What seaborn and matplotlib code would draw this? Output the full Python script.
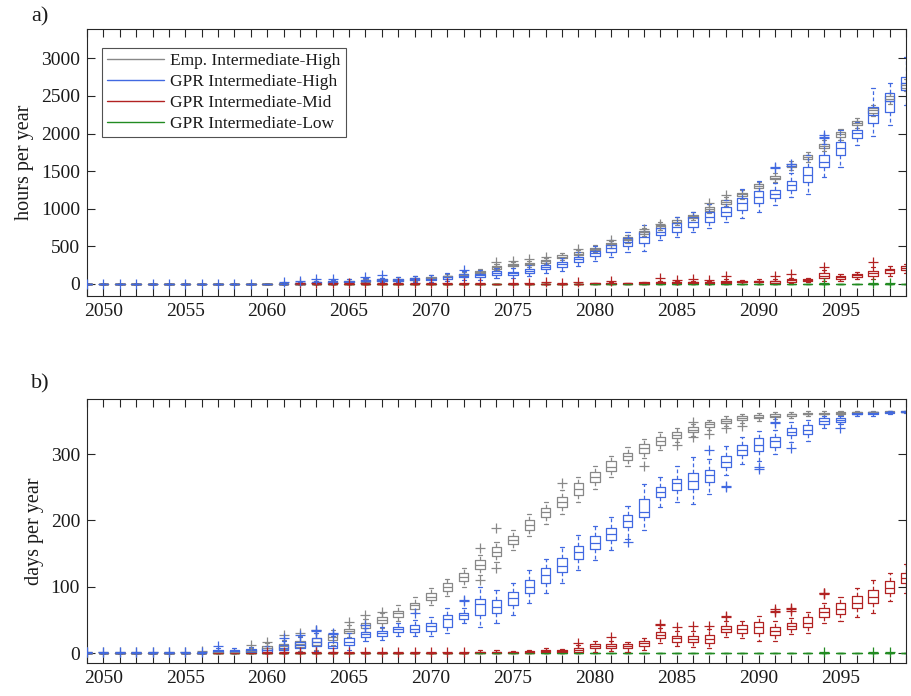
import numpy as np
import pandas as pd
import matplotlib
matplotlib.use("Agg")
import matplotlib.pyplot as plt
from matplotlib.lines import Line2D
import seaborn as sns

YEARS = list(range(2049, 2100))
XTICK_LABELS = [str(y) if y % 5 == 0 else "" for y in YEARS]
SERIES_NAMES = ["Emp. Intermediate-High", "GPR Intermediate-High",
                "GPR Intermediate-Mid", "GPR Intermediate-Low"]
COLORS = ["#888888", "#4169e1", "#b22222", "#228b22"]

# ---------------- panel a: hours per year ----------------
EMP_A_MED = [0]*12 + [5,10,15,20,30,40,50,55,65,85, 100,125,165,220,250,265,300,365,405,470,
                      530,600,690,770,830,900,1000,1095,1190,1300, 1415,1575,1690,1840,1990,2140,2310,2465,2640]
EMP_A_Q1 = [0]*12 + [0,5,8,12,20,30,40,45,55,75, 90,113,150,205,235,250,285,350,390,455,
                     512,582,670,750,810,880,975,1070,1165,1275, 1390,1550,1665,1810,1960,2110,2280,2435,2605]
EMP_A_Q3 = [0]*12 + [10,15,22,28,38,50,60,65,75,95, 110,137,178,235,265,280,315,380,420,485,
                     548,618,710,790,850,920,1020,1115,1210,1325, 1440,1600,1715,1865,2015,2165,2340,2495,2670]
EMP_A_LO = [0]*12 + [0,0,0,0,5,15,25,30,40,55, 70,95,130,180,210,225,260,325,365,425,
                     485,550,640,720,780,850,940,1035,1130,1240, 1350,1510,1620,1770,1920,2070,2240,2390,2560]
EMP_A_HI = [0]*12 + [20,25,35,45,60,70,80,90,100,120, 135,160,200,265,295,310,345,410,450,515,
                     575,650,745,825,885,955,1060,1155,1250,1360, 1480,1640,1760,1910,2060,2210,2380,2540,2720]
EMP_A_OUT_X = [2074, 2075, 2076, 2077, 2079, 2081, 2083, 2084, 2087, 2088]
EMP_A_OUT_Y = [290, 310, 335, 365, 470, 585, 726, 800, 1075, 1183]

HIGH_A_MED = [0]*12 + [3,10,20,25,30,45,50,53,62,71, 89,110,115,150,142,177,230,261,328,408,
                       474,554,620,695,762,828,886,961,1072,1161, 1192,1316,1449,1626,1803,2002,2246,2437,2667]
HIGH_A_Q1 = [0]*12 + [0,5,12,15,20,35,40,42,50,58, 72,90,95,125,120,150,200,230,295,370,
                      430,500,540,651,695,762,830,908,985,1075, 1138,1249,1360,1559,1714,1936,2135,2290,2578]
HIGH_A_Q3 = [0]*12 + [6,15,28,35,40,55,60,65,75,85, 105,128,138,172,165,200,255,290,360,440,
                      518,615,695,740,815,886,961,1028,1140,1236, 1249,1373,1559,1714,1892,2046,2348,2534,2755]
HIGH_A_LO = [0]*12 + [0,0,0,0,5,15,20,20,25,30, 40,55,55,80,75,100,150,175,235,300,
                      360,420,440,590,620,690,740,820,880,960, 1050,1150,1200,1420,1560,1850,1967,2113,2380]
HIGH_A_HI = [0]*12 + [12,25,45,55,60,80,85,90,100,115, 140,170,180,215,210,250,310,345,420,510,
                      580,690,790,800,890,960,1060,1120,1260,1370, 1340,1480,1720,1860,2050,2150,2600,2667,3020]
HIGH_A_OUT_X = [2049, 2050, 2051, 2052, 2053, 2054, 2055, 2056, 2057, 2058, 2059,
                2061, 2062, 2063, 2064, 2066, 2067, 2072, 2091, 2091, 2092, 2092, 2094, 2094, 2094]
HIGH_A_OUT_Y = [5, 5, 5, 5, 5, 5, 5, 5, 5, 5, 5,
                20, 35, 60, 70, 95, 120, 190, 1540, 1560, 1575, 1595, 1945, 1960, 1975]

MID_A_MED = [0]*31 + [8,10,8,15,20,20,20,22,30,30, 35,35,50,55,110,90,118,150,180,210]
MID_A_Q1 = [0]*31 + [3,4,3,5,10,8,8,10,15,20, 20,15,30,45,80,70,95,110,150,185]
MID_A_Q3 = [0]*31 + [12,14,10,22,30,28,30,30,40,40, 45,45,60,65,150,105,135,175,200,235]
MID_A_LO = [0]*31 + [0,0,0,0,0,0,0,0,0,5, 5,0,10,25,40,40,65,60,110,150]
MID_A_HI = [0]*31 + [18,20,15,30,45,40,45,45,60,55, 65,65,85,85,180,130,160,230,240,270]
MID_A_OUT_X = [2062, 2063, 2064, 2065, 2066, 2067, 2068, 2069, 2070, 2071, 2072, 2073,
               2075, 2076, 2077, 2078, 2079, 2081, 2084, 2085, 2086, 2087, 2088, 2091, 2092, 2094, 2097]
MID_A_OUT_Y = [10, 10, 10, 10, 10, 10, 10, 10, 10, 10, 10, 10,
               10, 10, 25, 10, 30, 40, 75, 55, 60, 55, 100, 110, 130, 221, 295]

LOW_A_MED = [0]*51
LOW_A_OUT_X = [2094, 2097, 2098]
LOW_A_OUT_Y = [8, 8, 8]

# ---------------- panel b: days per year ----------------
EMP_B_MED = [0]*8 + [1,2,3,7,10,13,17,24,34,42, 50,60,72,85,99,114,133,152,170,193,
                     212,228,247,266,281,297,309,320,329,337, 345,350,354,356,358,360,361,361,362,363, 364,364,364]
EMP_B_Q1 = [0]*8 + [0,0,1,4,6,9,12,19,30,38, 45,55,67,80,94,109,127,146,164,186,
                    205,220,239,258,274,291,302,314,324,333, 341,347,351,354,356,358,360,360,361,362, 363,363,364]
EMP_B_Q3 = [0]*8 + [2,3,5,10,14,18,22,28,37,46, 54,64,76,91,105,120,140,160,177,200,
                    218,236,256,273,289,302,315,326,334,341, 348,353,357,359,360,361,362,362,363,364, 364,365,365]
EMP_B_LO = [0]*8 + [0,0,0,0,1,3,5,12,24,32, 38,48,60,72,86,100,118,138,155,176,
                    195,210,228,248,265,282,294,306,318,327, 336,343,347,350,353,355,358,358,359,361, 362,362,363]
EMP_B_HI = [0]*8 + [3,5,7,15,20,25,30,35,42,52, 60,72,84,98,112,128,148,168,186,210,
                    228,246,265,282,297,310,322,333,340,346, 352,357,360,362,363,364,365,365,365,365, 365,365,365]
EMP_B_OUT_X = [2049, 2050, 2051, 2052, 2053, 2054, 2055, 2056, 2059, 2060, 2061, 2062, 2063,
               2065, 2066, 2067, 2073, 2073, 2074, 2074, 2078, 2083, 2085, 2086, 2086, 2087, 2088, 2089]
EMP_B_OUT_Y = [1, 1, 1, 1, 1, 1, 1, 3, 12, 17, 27, 30, 35,
               47, 58, 62, 158, 110, 188, 128, 257, 282, 314, 349, 326, 331, 340, 342]

HIGH_B_MED = [0]*8 + [3,3,4,4,8,12,16,11,17,28, 30,36,37,41,52,57,74,70,83,100,
                      117,132,152,166,180,199,213,243,256,260, 268,288,306,314,319,334,337,350,352,361, 362,363,364]
HIGH_B_Q1 = [0]*8 + [1,1,1,1,4,7,11,7,12,24, 26,32,32,34,40,52,57,60,72,90,
                     105,122,142,157,171,190,205,236,246,248, 258,280,298,305,310,328,330,346,349,360, 360,362,363]
HIGH_B_Q3 = [0]*8 + [5,5,6,7,12,17,22,17,22,32, 34,40,42,45,57,61,82,80,92,110,
                     128,143,162,177,189,208,233,250,263,272, 276,297,313,324,325,340,344,354,355,362, 363,364,365]
HIGH_B_LO = [0]*8 + [0,0,0,0,0,1,3,1,4,18, 20,25,26,25,30,45,40,45,58,75,
                     90,105,125,140,155,172,185,220,228,225, 240,268,285,290,300,318,320,340,345,358, 358,361,362]
HIGH_B_HI = [0]*8 + [8,8,9,10,18,24,30,25,30,38, 40,46,50,55,68,68,100,95,105,125,
                     142,160,178,192,205,222,255,265,282,296, 292,312,325,335,336,348,352,358,358,364, 364,365,365]
HIGH_B_OUT_X = [2049, 2050, 2051, 2052, 2053, 2054, 2055, 2056, 2057, 2061, 2062, 2063, 2063,
                2064, 2064, 2066, 2069, 2072, 2072, 2082, 2087, 2088, 2088, 2090, 2090, 2091, 2091, 2092, 2095]
HIGH_B_OUT_Y = [1, 1, 1, 1, 1, 1, 1, 1, 10, 22, 27, 33, 35,
                28, 30, 42, 60, 78, 80, 168, 306, 252, 250, 278, 280, 347, 349, 309, 339]

MID_B_MED = [0]*24 + [1,1,1,2,3,3,5,10,11,10, 15,27,22,21,21,36,36,40,34,41, 46,62,67,76,84,98,113]
MID_B_Q1 = [0]*24 + [0,0,0,0,1,1,2,7,8,7, 11,22,17,16,15,31,30,30,27,36, 40,55,59,68,76,90,105]
MID_B_Q3 = [0]*24 + [2,2,2,3,4,4,8,14,14,13, 18,31,26,26,27,41,42,47,40,46, 55,68,76,86,95,108,120]
MID_B_LO = [0]*24 + [0,0,0,0,0,0,0,2,3,2, 5,15,10,9,7,24,22,18,18,28, 30,45,48,55,60,78,90]
MID_B_HI = [0]*24 + [4,4,3,5,7,6,12,18,18,17, 22,38,33,34,36,48,49,56,48,53, 62,75,85,98,110,120,135]
MID_B_OUT_X = [2060, 2061, 2062, 2063, 2064, 2065, 2066, 2067, 2068, 2069, 2070, 2071, 2072,
               2079, 2081, 2084, 2084, 2085, 2086, 2087, 2088, 2088, 2091, 2091, 2091,
               2092, 2092, 2092, 2094, 2094, 2094]
MID_B_OUT_Y = [2, 2, 2, 2, 2, 2, 2, 2, 2, 2, 2, 2, 2,
               15, 24, 42, 44, 39, 41, 41, 56, 54, 66, 64, 62,
               68, 66, 64, 90, 89, 91]

LOW_B_MED = [0]*51
LOW_B_OUT_X = [2094, 2097, 2098]
LOW_B_OUT_Y = [1, 1, 1]

# ---------------- drawing ----------------
sns.set_style("ticks")
plt.rcParams["font.family"] = ["Liberation Serif", "DejaVu Serif"]
plt.rcParams["axes.edgecolor"] = "#262626"
plt.rcParams["axes.linewidth"] = 0.8

INK = "#262626"


def box_frame(lo, q1, med, q3, hi):
    rows = []
    for yr, a, b, c, d, e in zip(YEARS, lo, q1, med, q3, hi):
        for v in (a, b, c, d, e):
            rows.append((yr, v))
    return pd.DataFrame(rows, columns=["year", "value"])


def draw(ax, stats, color, outx, outy):
    df = box_frame(*stats)
    sns.boxplot(data=df, x="year", y="value", native_scale=True, whis=np.inf,
                width=0.58, fill=False, color=color, linewidth=0.9,
                showfliers=False, whiskerprops=dict(linestyle=(0, (3, 2))),
                capwidths=0.25, ax=ax)
    if outx:
        sns.scatterplot(x=outx, y=outy, marker="+", color=color, s=55,
                        linewidth=0.9, ax=ax, zorder=3, legend=False)


fig = plt.figure(figsize=(9.11, 6.96), dpi=100)
ax_a = fig.add_axes([0.0955, 0.5747, 0.899, 0.3836])
ax_b = fig.add_axes([0.0955, 0.0474, 0.899, 0.3793])

panel_a = [
    ((LOW_A_MED, LOW_A_MED, LOW_A_MED, LOW_A_MED, LOW_A_MED), COLORS[3], LOW_A_OUT_X, LOW_A_OUT_Y),
    ((MID_A_LO, MID_A_Q1, MID_A_MED, MID_A_Q3, MID_A_HI), COLORS[2], MID_A_OUT_X, MID_A_OUT_Y),
    ((EMP_A_LO, EMP_A_Q1, EMP_A_MED, EMP_A_Q3, EMP_A_HI), COLORS[0], EMP_A_OUT_X, EMP_A_OUT_Y),
    ((HIGH_A_LO, HIGH_A_Q1, HIGH_A_MED, HIGH_A_Q3, HIGH_A_HI), COLORS[1], HIGH_A_OUT_X, HIGH_A_OUT_Y),
]
panel_b = [
    ((LOW_B_MED, LOW_B_MED, LOW_B_MED, LOW_B_MED, LOW_B_MED), COLORS[3], LOW_B_OUT_X, LOW_B_OUT_Y),
    ((MID_B_LO, MID_B_Q1, MID_B_MED, MID_B_Q3, MID_B_HI), COLORS[2], MID_B_OUT_X, MID_B_OUT_Y),
    ((EMP_B_LO, EMP_B_Q1, EMP_B_MED, EMP_B_Q3, EMP_B_HI), COLORS[0], EMP_B_OUT_X, EMP_B_OUT_Y),
    ((HIGH_B_LO, HIGH_B_Q1, HIGH_B_MED, HIGH_B_Q3, HIGH_B_HI), COLORS[1], HIGH_B_OUT_X, HIGH_B_OUT_Y),
]

for ax, items in ((ax_a, panel_a), (ax_b, panel_b)):
    for stats, color, ox, oy in items:
        draw(ax, stats, color, ox, oy)

for ax in (ax_a, ax_b):
    ax.set_xlim(2049, 2099)
    ax.set_xticks(YEARS)
    ax.set_xticklabels(XTICK_LABELS)
    ax.set_xlabel("")
    ax.tick_params(direction="in", length=5.5, width=0.8, top=True, right=True,
                   labelsize=14, colors=INK, labelcolor="#1a1a1a", pad=5)
    for sp in ax.spines.values():
        sp.set_visible(True)
        sp.set_color(INK)
        sp.set_linewidth(0.8)

ax_a.set_ylim(-160, 3390)
ax_a.set_yticks([0, 500, 1000, 1500, 2000, 2500, 3000])
ax_a.set_ylabel("hours per year", fontsize=14.5, color="#1a1a1a", labelpad=5)
ax_b.set_ylim(-15, 383)
ax_b.set_yticks([0, 100, 200, 300])
ax_b.set_ylabel("days per year", fontsize=14.5, color="#1a1a1a", labelpad=5)

handles = [Line2D([0], [0], color=c, lw=1.0) for c in COLORS]
leg = ax_a.legend(handles, SERIES_NAMES, loc="upper left", bbox_to_anchor=(0.018, 0.93),
                  borderaxespad=0, frameon=True, fancybox=False, fontsize=12.5,
                  handlelength=3.3, handletextpad=0.35, labelspacing=0.28,
                  borderpad=0.3)
leg.get_frame().set_edgecolor(INK)
leg.get_frame().set_linewidth(0.8)
for t in leg.get_texts():
    t.set_color("#1a1a1a")

fig.text(40 / 911, 1 - 17 / 696, "a)", fontsize=16, color="#1a1a1a", ha="center", va="center")
fig.text(40 / 911, 1 - 384 / 696, "b)", fontsize=16, color="#1a1a1a", ha="center", va="center")

fig.savefig("out.png", dpi=100)
